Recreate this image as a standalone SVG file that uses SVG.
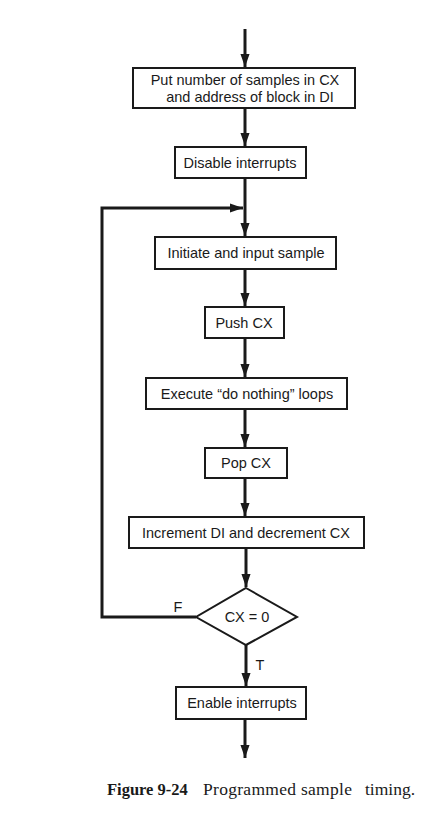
<svg xmlns="http://www.w3.org/2000/svg" width="434" height="824" viewBox="0 0 434 824">
<defs>
<marker id="ah" viewBox="0 0 10 10" refX="10" refY="5" markerWidth="4.5" markerHeight="4.5" markerUnits="strokeWidth" orient="auto">
<path d="M0,1.5 L10,5 L0,8.5 Z" fill="#1a1a1a"/>
</marker>
<style>
.box{fill:#fff;stroke:#1a1a1a;stroke-width:2}
.t{font-family:"Liberation Sans",Arial,sans-serif;font-size:14.5px;fill:#1a1a1a;text-anchor:middle}
.c{fill:none;stroke:#1a1a1a;stroke-width:3}
.cap{font-family:"Liberation Serif","Times New Roman",serif;font-size:17.5px;fill:#1a1a1a}
</style>
</defs>
<rect width="434" height="824" fill="#fff"/>
<g id="connectors">
<line class="c" x1="245" y1="29" x2="245" y2="67" marker-end="url(#ah)"/>
<line class="c" x1="245" y1="108" x2="245" y2="146" marker-end="url(#ah)"/>
<line class="c" x1="245" y1="178" x2="245" y2="236" marker-end="url(#ah)"/>
<line class="c" x1="245" y1="269" x2="245" y2="306" marker-end="url(#ah)"/>
<line class="c" x1="245" y1="338" x2="245" y2="377" marker-end="url(#ah)"/>
<line class="c" x1="245" y1="409" x2="245" y2="447" marker-end="url(#ah)"/>
<line class="c" x1="245" y1="478" x2="245" y2="516" marker-end="url(#ah)"/>
<line class="c" x1="246" y1="548" x2="246" y2="587" marker-end="url(#ah)"/>
<line class="c" x1="246" y1="645" x2="246" y2="686" marker-end="url(#ah)"/>
<line class="c" x1="245" y1="719" x2="245" y2="758" marker-end="url(#ah)"/>
<polyline class="c" points="196,617 102,617 102,208 243,208" marker-end="url(#ah)"/>
</g>
<g id="n1"><rect class="box" x="133" y="68" width="222" height="40"/>
<text class="t" x="245" y="85">Put number of samples in CX</text>
<text class="t" x="250" y="102">and address of block in DI</text></g>
<g id="n2"><rect class="box" x="175" y="147" width="131" height="31"/>
<text class="t" x="240" y="168">Disable interrupts</text></g>
<g id="n3"><rect class="box" x="155" y="237" width="181" height="32"/>
<text class="t" x="246" y="258">Initiate and input sample</text></g>
<g id="n4"><rect class="box" x="205" y="307" width="79" height="31"/>
<text class="t" x="244" y="328">Push CX</text></g>
<g id="n5"><rect class="box" x="146" y="378" width="201" height="31"/>
<text class="t" x="247" y="399">Execute “do nothing” loops</text></g>
<g id="n6"><rect class="box" x="205" y="448" width="82" height="30"/>
<text class="t" x="246" y="468">Pop CX</text></g>
<g id="n7"><rect class="box" x="129" y="517" width="235" height="31"/>
<text class="t" x="246" y="538">Increment DI and decrement CX</text></g>
<g id="n8"><polygon class="box" points="246,588 297,617 246,645 196,617"/>
<text class="t" x="247" y="622">CX = 0</text></g>
<g id="n9"><rect class="box" x="176" y="687" width="130" height="32"/>
<text class="t" x="242" y="708">Enable interrupts</text></g>
<g id="labels">
<text class="t" x="178" y="612">F</text>
<text class="t" x="260" y="670">T</text>
</g>
<text class="cap" y="795"><tspan x="107" font-weight="bold" font-size="16.5px">Figure 9-24</tspan><tspan x="203" textLength="149">Programmed sample</tspan><tspan x="365">timing.</tspan></text>
</svg>
